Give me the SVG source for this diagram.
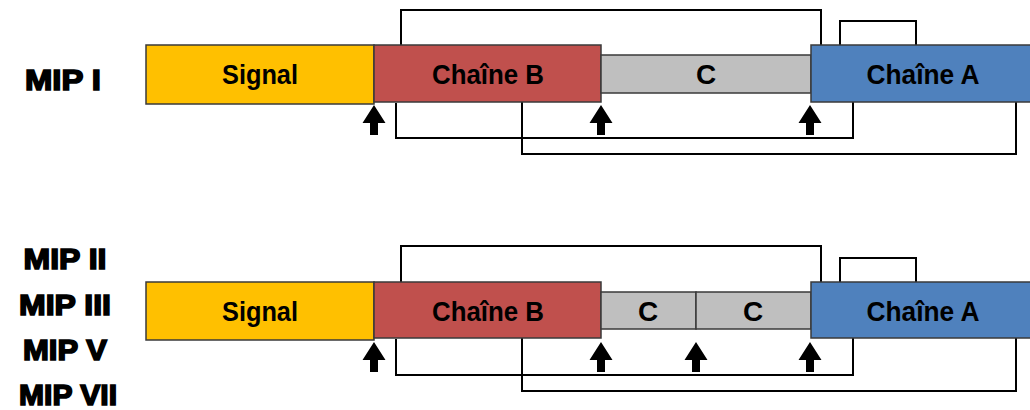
<svg xmlns="http://www.w3.org/2000/svg" width="1030" height="410" viewBox="0 0 1030 410">
<style>
.box{stroke:#3a3a3a;stroke-width:1.5}
.sig{fill:#FFC000}.chb{fill:#C0504D}.c{fill:#BFBFBF}.cha{fill:#4F81BD}
.lbl{font-family:"Liberation Sans",Arial,sans-serif;font-weight:bold;font-size:28px;fill:#000;text-anchor:middle}
.mip{font-family:"Liberation Sans",Arial,sans-serif;font-weight:bold;font-size:29px;fill:#000;stroke:#000;stroke-width:1.6;text-anchor:middle}
.con{fill:none;stroke:#000;stroke-width:2}
</style>
<defs>
<path id="arr" d="M0,0 L11.5,18 L4,18 L4,30 L-4,30 L-4,18 L-11.5,18 Z" fill="#000"/>
</defs>
<rect width="1030" height="410" fill="#fff"/>

<g id="labels">
<text class="mip" x="63" y="90" textLength="76" lengthAdjust="spacingAndGlyphs">MIP I</text>
<text class="mip" x="65" y="269" textLength="83" lengthAdjust="spacingAndGlyphs">MIP II</text>
<text class="mip" x="65" y="315" textLength="92" lengthAdjust="spacingAndGlyphs">MIP III</text>
<text class="mip" x="65" y="360" textLength="84" lengthAdjust="spacingAndGlyphs">MIP V</text>
<text class="mip" x="68" y="405" textLength="98" lengthAdjust="spacingAndGlyphs">MIP VII</text>
</g>

<g id="connectors">
<polyline class="con" points="401,45 401,10 821,10 821,45"/>
<polyline class="con" points="840,45 840,21 916,21 916,45"/>
<polyline class="con" points="396,103 396,138 853,138 853,102"/>
<polyline class="con" points="522,102 522,154 1016,154 1016,102"/>
<polyline class="con" points="401,282 401,246 821,246 821,282"/>
<polyline class="con" points="840,282 840,258 916,258 916,282"/>
<polyline class="con" points="396,339 396,375 853,375 853,338"/>
<polyline class="con" points="522,338 522,391 1016,391 1016,338"/>
</g>

<g id="mip1">
<g id="mip1-signal"><rect class="box sig" x="146" y="45" width="228" height="59"/><text class="lbl" x="260" y="84" textLength="76" lengthAdjust="spacingAndGlyphs">Signal</text></g>
<g id="mip1-chaineB"><rect class="box chb" x="374" y="45" width="227" height="57"/><text class="lbl" x="488" y="84" textLength="112" lengthAdjust="spacingAndGlyphs">Chaîne B</text></g>
<g id="mip1-c"><rect class="box c" x="601" y="55" width="210" height="38"/><text class="lbl" x="706" y="84">C</text></g>
<g id="mip1-chaineA"><rect class="box cha" x="811" y="45" width="225" height="57"/><text class="lbl" x="923" y="84" textLength="113" lengthAdjust="spacingAndGlyphs">Chaîne A</text></g>
<g id="mip1-arrows"><use href="#arr" x="374" y="105"/><use href="#arr" x="601" y="105"/><use href="#arr" x="810" y="105"/></g>
</g>

<g id="mip2">
<g id="mip2-signal"><rect class="box sig" x="146" y="282" width="228" height="58"/><text class="lbl" x="260" y="321" textLength="76" lengthAdjust="spacingAndGlyphs">Signal</text></g>
<g id="mip2-chaineB"><rect class="box chb" x="374" y="282" width="227" height="56"/><text class="lbl" x="488" y="321" textLength="112" lengthAdjust="spacingAndGlyphs">Chaîne B</text></g>
<g id="mip2-c1"><rect class="box c" x="601" y="292" width="95" height="37"/><text class="lbl" x="648" y="321">C</text></g>
<g id="mip2-c2"><rect class="box c" x="696" y="292" width="115" height="37"/><text class="lbl" x="753" y="321">C</text></g>
<g id="mip2-chaineA"><rect class="box cha" x="811" y="282" width="225" height="56"/><text class="lbl" x="923" y="321" textLength="113" lengthAdjust="spacingAndGlyphs">Chaîne A</text></g>
<g id="mip2-arrows"><use href="#arr" x="374" y="342"/><use href="#arr" x="601" y="342"/><use href="#arr" x="696" y="342"/><use href="#arr" x="810" y="342"/></g>
</g>
</svg>
